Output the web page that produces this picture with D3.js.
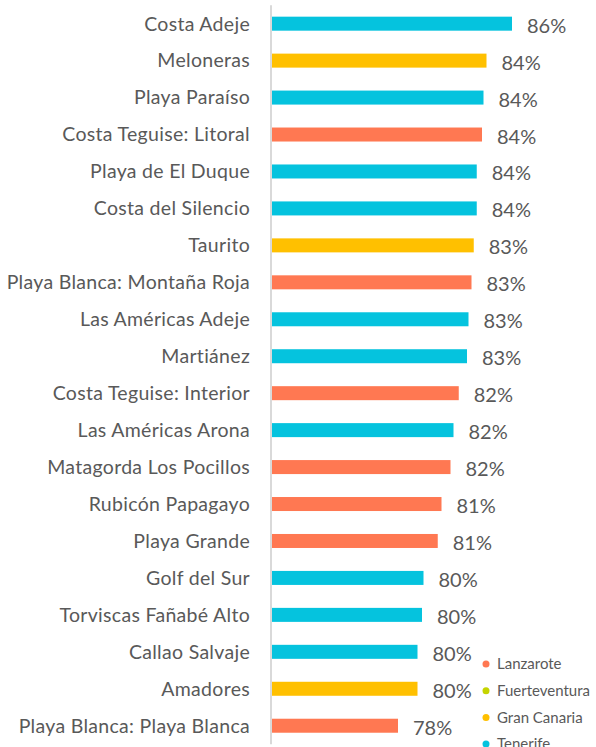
<!DOCTYPE html>
<html>
<head>
<meta charset="utf-8">
<script src="https://cdn.jsdelivr.net/npm/d3@7/dist/d3.min.js"></script>
<style>
  html, body { margin: 0; padding: 0; background: #ffffff; }
  svg { display: block; }
</style>
</head>
<body>
<script>
const categories = [
  "Costa Adeje", "Meloneras", "Playa Paraíso", "Costa Teguise: Litoral",
  "Playa de El Duque", "Costa del Silencio", "Taurito", "Playa Blanca: Montaña Roja",
  "Las Américas Adeje", "Martiánez", "Costa Teguise: Interior", "Las Américas Arona",
  "Matagorda Los Pocillos", "Rubicón Papagayo", "Playa Grande", "Golf del Sur",
  "Torviscas Fañabé Alto", "Callao Salvaje", "Amadores", "Playa Blanca: Playa Blanca"
];
const values = [
  0.860, 0.843, 0.841, 0.840,
  0.8365, 0.8365, 0.8345, 0.833,
  0.831, 0.830, 0.8245, 0.821,
  0.819, 0.813, 0.8105, 0.801,
  0.800, 0.797, 0.797, 0.784
];
const islands = [
  "Tenerife", "Gran Canaria", "Tenerife", "Lanzarote",
  "Tenerife", "Tenerife", "Gran Canaria", "Lanzarote",
  "Tenerife", "Tenerife", "Lanzarote", "Tenerife",
  "Lanzarote", "Lanzarote", "Lanzarote", "Tenerife",
  "Tenerife", "Tenerife", "Gran Canaria", "Lanzarote"
];
const legendItems = ["Lanzarote", "Fuerteventura", "Gran Canaria", "Tenerife"];
const legendColors = ["#FF7852", "#C5D400", "#FFC000", "#05C3DE"];
const xDomain = [0.70, 0.90];

const W = 596, H = 747;
const svg = d3.select("body").append("svg").attr("width", W).attr("height", H);

const color = d3.scaleOrdinal().domain(legendItems).range(legendColors);
const x = d3.scaleLinear().domain(xDomain).range([272, 572]);
const y = d3.scaleBand().domain(categories).range([5.2, 744.2]).padding(0);
const barH = 14;

const data = categories.map((c, i) => ({ c, v: values[i], isl: islands[i] }));

// bars
svg.append("g").selectAll("rect").data(data).join("rect")
  .attr("x", x(xDomain[0]))
  .attr("y", d => y(d.c) + y.bandwidth() / 2 - barH / 2)
  .attr("width", d => x(d.v) - x(xDomain[0]))
  .attr("height", barH)
  .attr("fill", d => color(d.isl));

// axis line
const yAxis = d3.axisLeft(y).tickSize(0).tickPadding(21);
const gAxis = svg.append("g").attr("transform", "translate(271,0)").call(yAxis);
gAxis.select(".domain").attr("stroke", "#D9D9D9").attr("stroke-width", 2)
  .attr("d", `M0,${y.range()[0]}V${y.range()[1]}`);
gAxis.selectAll(".tick text")
  .attr("fill", "#595959")
  .style("font-family", "Lato, 'Open Sans', sans-serif")
  .style("font-size", "19.5px")
  .style("letter-spacing", "0.3px")
  .attr("dy", "0.35em");

// value labels
const fmt = d3.format(".0%");
svg.append("g").selectAll("text").data(data).join("text")
  .attr("x", d => x(d.v) + 15)
  .attr("y", d => y(d.c) + y.bandwidth() / 2 + 2)
  .attr("dy", "0.35em")
  .attr("fill", "#595959")
  .style("font-family", "Lato, 'Open Sans', sans-serif")
  .style("font-size", "20px")
  .text(d => fmt(d.v));

// legend
const lg = svg.append("g").attr("transform", "translate(486,664)");
const li = lg.selectAll("g").data(legendItems).join("g")
  .attr("transform", (d, i) => `translate(0,${i * 26.7})`);
li.append("circle").attr("r", 3.5).attr("fill", d => color(d));
li.append("text").attr("x", 11).attr("dy", "0.35em")
  .attr("fill", "#595959")
  .style("font-family", "Lato, 'Open Sans', sans-serif")
  .style("font-size", "15px")
  .text(d => d);
</script>
</body>
</html>
